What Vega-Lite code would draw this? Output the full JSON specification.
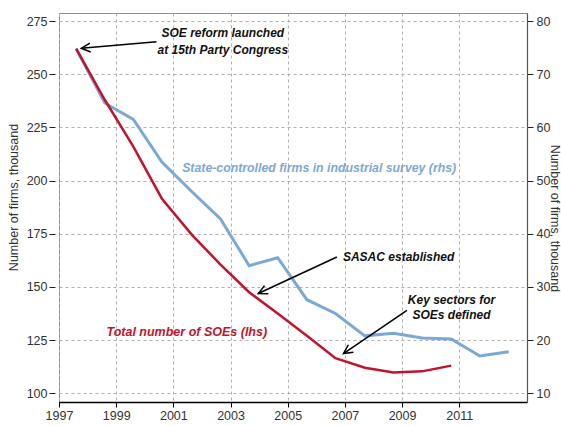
{
  "$schema": "https://vega.github.io/schema/vega-lite/v6.json",
  "width": 468,
  "height": 389,
  "autosize": "none",
  "padding": {"left": 59, "top": 13, "right": 34, "bottom": 24},
  "background": "white",
  "config": {
    "view": {"stroke": "#8c8c8c", "strokeWidth": 1},
    "font": "Liberation Sans",
    "axis": {
      "labelFont": "Liberation Sans",
      "labelFontSize": 12.5,
      "labelColor": "#333333",
      "titleFont": "Liberation Sans",
      "titleFontSize": 12.5,
      "titleFontWeight": "normal",
      "titleColor": "#333333",
      "gridColor": "#b0b0b0",
      "gridDash": [3, 3],
      "gridWidth": 1,
      "tickColor": "#222222",
      "labelOverlap": false,
      "labelFlush": false
    }
  },
  "datasets": {
    "soe": [
      {"t": 1997.6, "v": 262},
      {"t": 1998.6, "v": 238},
      {"t": 1999.6, "v": 216},
      {"t": 2000.6, "v": 191.5},
      {"t": 2001.65, "v": 174.5},
      {"t": 2002.65, "v": 160.5},
      {"t": 2003.65, "v": 147.5},
      {"t": 2004.65, "v": 137.5},
      {"t": 2005.67, "v": 127},
      {"t": 2006.67, "v": 116.5},
      {"t": 2007.7, "v": 112},
      {"t": 2008.7, "v": 109.8},
      {"t": 2009.7, "v": 110.3},
      {"t": 2010.72, "v": 113}
    ],
    "state": [
      {"t": 1997.6, "v": 74.8},
      {"t": 1998.6, "v": 64.6},
      {"t": 1999.6, "v": 61.5},
      {"t": 2000.6, "v": 53.5},
      {"t": 2001.65, "v": 47.9},
      {"t": 2002.65, "v": 42.8},
      {"t": 2003.65, "v": 34.0},
      {"t": 2004.65, "v": 35.5},
      {"t": 2005.67, "v": 27.6},
      {"t": 2006.67, "v": 25.0},
      {"t": 2007.7, "v": 20.8},
      {"t": 2008.7, "v": 21.3},
      {"t": 2009.7, "v": 20.4},
      {"t": 2010.72, "v": 20.2},
      {"t": 2011.72, "v": 17.0},
      {"t": 2012.73, "v": 17.8}
    ],
    "arrows": [
      {"id": 1, "t": 2000.41, "v": 265.3, "t2": 1997.78, "v2": 262.2},
      {"id": 2, "t": 2006.72, "v": 164.1, "t2": 2003.97, "v2": 146.9},
      {"id": 3, "t": 2009.17, "v": 139.0, "t2": 2006.95, "v2": 118.7}
    ],
    "heads": [
      {"id": 1, "t": 1997.78, "v": 262.2},
      {"id": 2, "t": 2003.97, "v": 146.9},
      {"id": 3, "t": 2006.95, "v": 118.7}
    ],
    "notes": [
      {"kind": "black", "label": "SOE reform launched", "t": 2002.73, "v": 269.4},
      {"kind": "black", "label": "at 15th Party Congress", "t": 2002.73, "v": 261.4},
      {"kind": "black", "label": "SASAC established", "t": 2008.88, "v": 164.1},
      {"kind": "black", "label": "Key sectors for", "t": 2010.73, "v": 143.8},
      {"kind": "black", "label": "SOEs defined", "t": 2010.73, "v": 136.7},
      {"kind": "red", "label": "Total number of SOEs (lhs)", "t": 2001.47, "v": 128.8},
      {"kind": "blue", "label": "State-controlled firms in industrial survey (rhs)", "t": 2006.1, "v": 205.8}
    ]
  },
  "encoding": {
    "x": {
      "field": "t",
      "type": "quantitative",
      "title": null,
      "scale": {"domain": [1997, 2013.37], "nice": false, "zero": false},
      "axis": {
        "values": [1997, 1999, 2001, 2003, 2005, 2007, 2009, 2011],
        "format": "d",
        "grid": true,
        "domainColor": "#000000",
        "domainWidth": 1.5,
        "tickColor": "#000000",
        "tickSize": 5,
        "labelPadding": 2
      }
    }
  },
  "layer": [
    {
      "data": {"name": "state"},
      "mark": {"type": "line", "color": "#7aa9d6", "strokeWidth": 3},
      "encoding": {
        "y": {
          "field": "v",
          "type": "quantitative",
          "scale": {"domain": [8.36, 81.52], "nice": false, "zero": false},
          "axis": {
            "orient": "right",
            "values": [10, 20, 30, 40, 50, 60, 70, 80],
            "grid": false,
            "domainColor": "#555555",
            "domainWidth": 1.2,
            "tickSize": 6,
            "labelPadding": 3,
            "title": "Number of firms, thousand",
            "titleX": 27,
            "titleY": 205,
            "titleAngle": 90,
            "titleBaseline": "middle",
            "titleAlign": "center"
          }
        }
      }
    },
    {
      "encoding": {
        "y": {
          "field": "v",
          "type": "quantitative",
          "scale": {"domain": [95.9, 278.8], "nice": false, "zero": false},
          "axis": {
            "values": [100, 125, 150, 175, 200, 225, 250, 275],
            "grid": true,
            "domain": false,
            "offset": 4,
            "tickSize": 6,
            "labelPadding": 2,
            "title": "Number of firms, thousand",
            "titleX": -42,
            "titleY": 184,
            "titleAngle": -90,
            "titleBaseline": "middle",
            "titleAlign": "center"
          }
        }
      },
      "layer": [
        {
          "data": {"name": "soe"},
          "mark": {"type": "line", "color": "#c0142c", "strokeWidth": 2.5}
        },
        {
          "data": {"name": "arrows"},
          "mark": {"type": "rule", "color": "#000000", "strokeWidth": 1.5},
          "encoding": {
            "x2": {"field": "t2"},
            "y2": {"field": "v2"}
          }
        },
        {
          "data": {"name": "heads"},
          "transform": [{"filter": "datum.id == 1"}],
          "mark": {"type": "point", "shape": "M-2,-1L0,0L-2,1", "size": 81, "filled": false, "stroke": "#000000", "strokeWidth": 1.5, "angle": 175, "opacity": 1}
        },
        {
          "data": {"name": "heads"},
          "transform": [{"filter": "datum.id == 2"}],
          "mark": {"type": "point", "shape": "M-2,-1L0,0L-2,1", "size": 81, "filled": false, "stroke": "#000000", "strokeWidth": 1.5, "angle": 155, "opacity": 1}
        },
        {
          "data": {"name": "heads"},
          "transform": [{"filter": "datum.id == 3"}],
          "mark": {"type": "point", "shape": "M-2,-1L0,0L-2,1", "size": 81, "filled": false, "stroke": "#000000", "strokeWidth": 1.5, "angle": 146, "opacity": 1}
        },
        {
          "data": {"name": "notes"},
          "transform": [{"filter": "datum.kind == 'black'"}],
          "mark": {"type": "text", "font": "Liberation Sans", "fontSize": 12, "fontWeight": "bold", "fontStyle": "italic", "color": "#111111", "align": "center", "baseline": "middle"},
          "encoding": {"text": {"field": "label"}}
        },
        {
          "data": {"name": "notes"},
          "transform": [{"filter": "datum.kind == 'red'"}],
          "mark": {"type": "text", "font": "Liberation Sans", "fontSize": 12.5, "fontWeight": "bold", "fontStyle": "italic", "color": "#c0142c", "align": "center", "baseline": "middle"},
          "encoding": {"text": {"field": "label"}}
        },
        {
          "data": {"name": "notes"},
          "transform": [{"filter": "datum.kind == 'blue'"}],
          "mark": {"type": "text", "font": "Liberation Sans", "fontSize": 12.3, "fontWeight": "bold", "fontStyle": "italic", "color": "#7ea9d4", "align": "center", "baseline": "middle"},
          "encoding": {"text": {"field": "label"}}
        }
      ]
    }
  ],
  "resolve": {"scale": {"y": "independent"}}
}
